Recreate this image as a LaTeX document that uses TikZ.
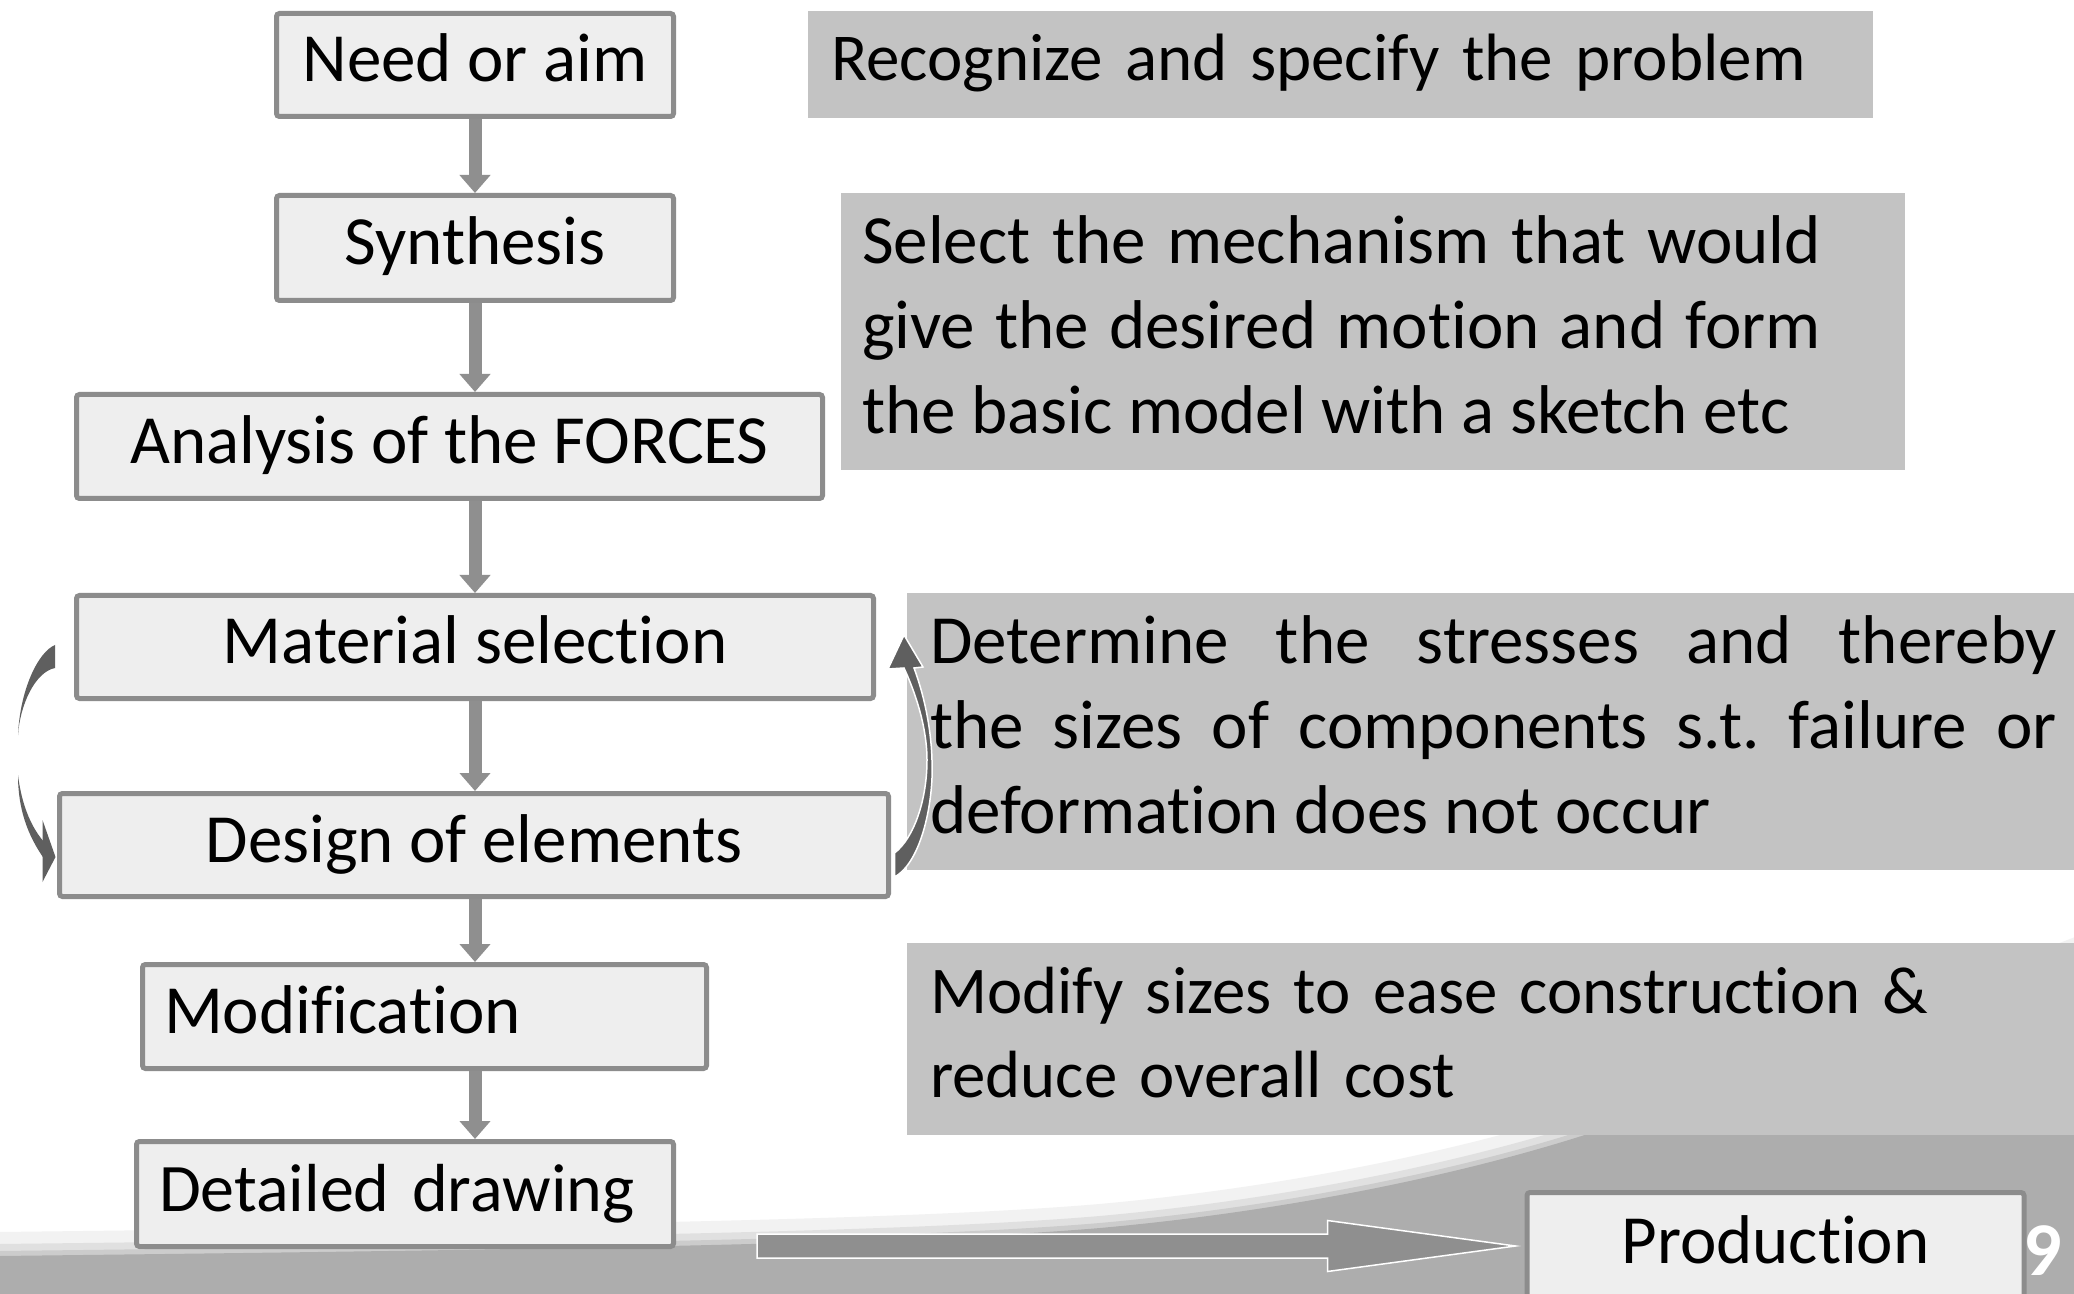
\documentclass[tikz,border=0pt]{standalone}
\usepackage{fontspec}
\setmainfont{Carlito}[Ligatures={NoCommon}]
\usepackage{tikz}
\usetikzlibrary{arrows.meta,calc}
\definecolor{boxfill}{HTML}{EEEEEE}
\definecolor{boxline}{HTML}{8C8C8C}
\definecolor{notefill}{HTML}{C3C3C3}
\definecolor{slidegray}{HTML}{ADADAD}
\definecolor{flowarrow}{HTML}{8F8F8F}
\definecolor{turngray}{HTML}{5F5F5F}
\frenchspacing

\begin{document}
\begin{tikzpicture}[x=0.5pt,y=-0.5pt,font=\fontsize{34.5}{42.5}\selectfont,
  flowbox/.style={draw=boxline,fill=boxfill,line width=2.5pt,rounded corners=1.5pt,inner sep=0pt,text height=29.75pt,text depth=12.75pt},
  notebox/.style={fill=notefill,inner xsep=11.5pt,inner ysep=0pt,align=left},
  flowline/.style={draw=flowarrow,line width=6.5pt,-{Triangle[length=9pt,width=15pt]}},
  bigarrow/.style={fill=flowarrow,draw=white,line width=0.75pt},
  turnfill/.style={fill=turngray}]
\useasboundingbox (0,0) rectangle (2074,1294);
\clip (0,0) rectangle (2074,1294);
\fill[white] (0,0) rectangle (2074,1294);
% swoosh at the foot of the slide
\foreach \dy/\lw/\col in {-12/12pt/black!5, -6/6pt/black!12, -2/3pt/black!20}
  \draw[line width=\lw,color=\col,shift={(0,\dy)}] (0,1256) .. controls (500,1250) and (900,1245) .. (1100,1228) .. controls (1300,1210) and (1480,1170) .. (1600,1130) .. controls (1800,1065) and (1950,1010) .. (2080,960);
\fill[slidegray] (0,1256) .. controls (500,1250) and (900,1245) .. (1100,1228) .. controls (1300,1210) and (1480,1170) .. (1600,1130) .. controls (1800,1065) and (1950,1010) .. (2080,960) -- (2080,1300) -- (0,1300) -- cycle;

% notes on the right
\node[notebox,text width=509.5pt,minimum height=53.5pt,font=\fontsize{33.5}{41}\selectfont] (recog) at (1340.5,64.5) {\strut Recognize and specify the problem\strut};
\node[notebox,minimum width=532pt,minimum height=138.5pt] (select) at (1373,331.5) {};
\node[text width=479.5pt,inner sep=0pt,align=justify,anchor=west] (selecttext) at ([shift={(21,0)}]select.west) {\strut Select the mechanism that would\linebreak give the desired motion and form\linebreak the basic model with a sketch etc\strut};
\node[notebox,text width=563.5pt,minimum height=138.5pt,align=justify] (determ) at (1493.5,731.5) {\strut Determine the stresses and thereby\linebreak the sizes of components s.t. failure or\linebreak deformation does not occur\strut};
\node[notebox,text width=563.5pt,minimum height=96pt,font=\fontsize{33.4}{42}\selectfont] (modify) at (1493.5,1039) {\strut Modify sizes to ease construction \&\\ reduce overall cost\strut};

% design steps
\node[flowbox,minimum width=198.5pt,minimum height=51.5pt] (need) at (475,65) {Need or aim};
\node[flowbox,minimum width=198.5pt,minimum height=52.5pt] (synth) at (475,248) {Synthesis};
\node[flowbox,minimum width=373pt,minimum height=52pt] (forces) at (449.5,446.5) {Analysis of the FORCES};
\node[flowbox,minimum width=398.5pt,minimum height=51.5pt] (material) at (475,647) {Material selection};
\node[flowbox,minimum width=414.5pt,minimum height=51.5pt] (design) at (474,845) {Design of elements};
\node[flowbox,minimum height=52pt,inner xsep=10.75pt,text width=260.5pt,align=left] (modif) at (424.5,1016.5) {Modification};
\node[flowbox,minimum height=52.5pt,inner xsep=11.25pt,text width=246pt,align=left,font=\fontsize{34}{42}\selectfont] (detail) at (405,1194) {Detailed drawing};

\foreach \a/\b in {need/synth,synth/forces,forces/material,material/design,design/modif,modif/detail}
  \draw[flowline] (need.south |- \a.south) -- (need.south |- \b.north);

% iteration between material and design
\fill[turnfill] ([shift={(-19,-2)}]material.west) .. controls (38,652) and (20,690) .. (18,735) .. controls (20,705) and (35,672) .. ([shift={(-19,21)}]material.west) -- cycle;
\fill[turnfill] (18,775) .. controls (18,808) and (27,835) .. (45,860) -- (45,843) .. controls (33,830) and (22,808) .. (18,775) -- cycle;
\fill[turnfill] ([shift={(-14.5,-25)}]design.west) -- ([shift={(-1.5,12)}]design.west) -- ([shift={(-14.5,37)}]design.west) -- cycle;
\filldraw[turnfill,draw=white,line width=0.75pt] ([shift={(3.5,32)}]design.east) .. controls (922,862) and (934,800) .. (932,760) .. controls (931,725) and (923,692) .. (914,668) -- (923,667) -- ([shift={(28,-12)}]material.east) -- (888,669) -- (904,668) .. controls (916,694) and (927,728) .. (927,760) .. controls (927,800) and (914,838) .. ([shift={(3.5,8)}]design.east) -- cycle;

% on to production
\coordinate (bigstart) at (757,1246);
\coordinate (bigtip) at (1515.5,1246);
\filldraw[bigarrow] ($(bigstart)+(0,-12)$) -- ($(bigtip)+(-188,-12)$) -- ($(bigtip)+(-188,-25.5)$) -- (bigtip) -- ($(bigtip)+(-188,25.5)$) -- ($(bigtip)+(-188,12)$) -- ($(bigstart)+(0,12)$) -- cycle;
\node[flowbox,minimum width=248.5pt,minimum height=53.5pt,anchor=west] (prod) at ([shift={(9,0)}]bigtip) {Production};
\node[text=white,font=\fontsize{38}{40}\selectfont\bfseries] (pagenum) at (2043,1251) {9};
\end{tikzpicture}
\end{document}
